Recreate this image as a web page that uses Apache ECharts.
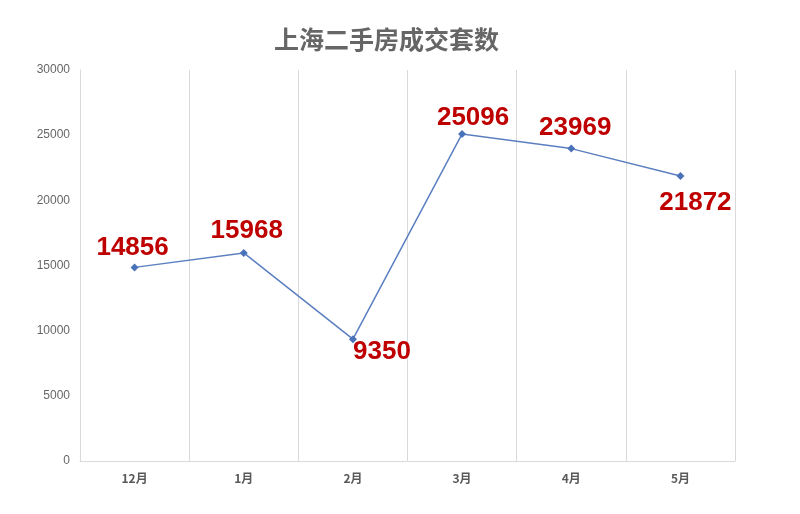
<!DOCTYPE html>
<html><head><meta charset="utf-8">
<script src="https://cdn.jsdelivr.net/npm/echarts@6/dist/echarts.min.js"></script>
<style>html,body{margin:0;padding:0;background:#fff}#c{width:800px;height:514px}</style>
</head><body><div id="c"></div>
<script>
const categories = ['12月','1月','2月','3月','4月','5月'];
const values = [14856, 15968, 9350, 25096, 23969, 21872];
const yTicks = [0, 5000, 10000, 15000, 20000, 25000, 30000];
const labelPos = ['top','top','bottom','top','top','bottom'];
const labelOffset = [[-2,2],[3,0],[29,-9],[11,6],[4,1],[15,5]];

const chart = echarts.init(document.getElementById('c'));
chart.setOption({
  backgroundColor: '#fff',
  title: {
    text: '上海二手房成交套数', left: 269, top: 22,
    textStyle: { fontFamily: 'Noto Sans CJK SC', fontSize: 25, fontWeight: 'bold', color: '#666666' }
  },
  grid: { left: 80, right: 65, top: 70, bottom: 53 },
  xAxis: {
    type: 'category', data: categories, boundaryGap: true,
    axisLine: { show: true, lineStyle: { color: '#d9d9d9' } },
    axisTick: { show: false },
    splitLine: { show: true, lineStyle: { color: '#d9d9d9' } },
    axisLabel: { color: '#595959', fontSize: 12, fontWeight: 'bold', margin: 11, fontFamily: 'Noto Sans CJK SC' }
  },
  yAxis: {
    type: 'value', min: yTicks[0], max: yTicks[yTicks.length-1], interval: 5000,
    axisLine: { show: true, lineStyle: { color: '#d9d9d9' } },
    axisTick: { show: false },
    splitLine: { show: false },
    axisLabel: { color: '#666666', fontSize: 12, margin: 10, fontFamily: 'Liberation Sans', formatter: v => String(v) }
  },
  series: [{
    type: 'line', symbol: 'diamond', symbolSize: 8,
    lineStyle: { color: '#5b7fc0', width: 1.5 },
    itemStyle: { color: '#4a72b8' },
    data: values.map((v, i) => ({
      value: v,
      label: { show: true, position: labelPos[i], offset: labelOffset[i] }
    })),
    label: { color: '#be0000', fontSize: 26, fontWeight: 'bold', fontFamily: 'Liberation Sans' }
  }]
});
</script></body></html>
